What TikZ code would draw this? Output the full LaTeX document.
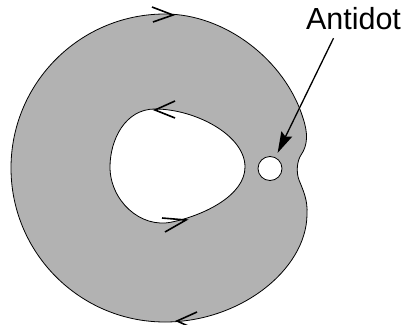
\documentclass[tikz,border=0pt]{standalone}
\usepackage{fontspec}
\setmainfont{Liberation Sans}
\usetikzlibrary{arrows.meta}
\begin{document}
\begin{tikzpicture}[x=1pt, y=-1pt, line width=0.8pt,
    chev/.style={line width=1.6pt, line join=miter},
    pointer/.style={line width=1.3pt, -{Stealth[length=21pt, width=12pt, inset=3pt]}, shorten >=5pt}]
  \useasboundingbox (0,0) rectangle (404,324);
  % ring with hole, dent next to the antidot
  \path[draw, fill=black!30, even odd rule]
    (165,14) .. controls (225,14) and (285,60) .. (303,118)
      .. controls (308,133) and (308,145) .. (301,155)
      .. controls (297,161) and (296,172) .. (299,180)
      .. controls (303,190) and (308,200) .. (307,215)
      .. controls (306,270) and (240,322) .. (165,322)
      arc[start angle=90, end angle=270, radius=154] -- cycle
    (155,109) .. controls (195,109) and (245,135) .. (245,167)
      .. controls (245,195) and (205,215) .. (172,222)
      .. controls (140,229) and (110,200) .. (110,167)
      .. controls (110,140) and (125,109) .. (155,109) -- cycle;
  % edge arrows
  \foreach \t/\a/\b in {{173,15}/{152,7}/{153,22}, {177,321}/{197,312}/{197,330},
      {155,110}/{175,101}/{175,118}, {186,220}/{162,218}/{165,232}}
    \draw[chev] (\a) -- (\t) -- (\b);
  \node[circle, draw, fill=white, minimum size=24pt, inner sep=0] (antidot) at (270,168.5) {};
  \node[font=\fontsize{30.5}{36}\selectfont, anchor=base, inner sep=0] (lbl) at (353.5,29.5) {Antidot};
  \draw[pointer] ([shift={(-20,8)}]lbl.south) -- (antidot);
\end{tikzpicture}
\end{document}
